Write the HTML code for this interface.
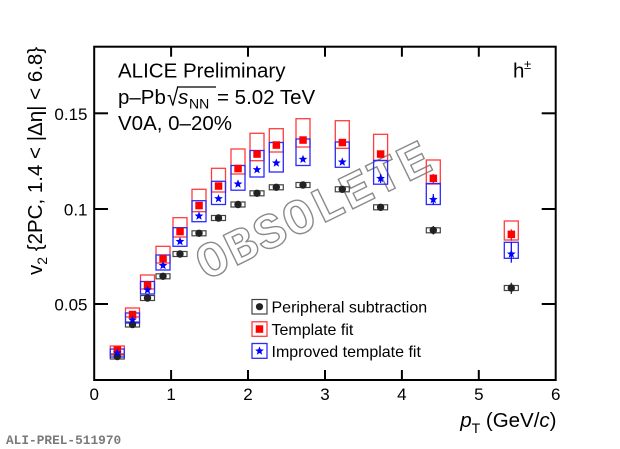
<!DOCTYPE html>
<html><head><meta charset="utf-8"><style>
html,body{margin:0;padding:0;background:#fff;}
svg{display:block;}
text{font-family:"Liberation Sans",Arial,sans-serif;fill:#000;}
</style></head><body>
<svg width="620" height="449" viewBox="0 0 620 449" xmlns="http://www.w3.org/2000/svg">
<defs>
<path id="star" d="M0,-4.6 L1.15,-1.58 L4.37,-1.42 L1.86,0.6 L2.7,3.72 L0,1.95 L-2.7,3.72 L-1.86,0.6 L-4.37,-1.42 L-1.15,-1.58 Z" fill="#0000ff"/>
</defs>
<rect width="620" height="449" fill="#fff"/>

<!-- watermark -->
<g transform="translate(314,210) rotate(-26)">
<text x="0" y="16" text-anchor="middle" style="font-family:'Liberation Mono','DejaVu Sans Mono',monospace;font-weight:bold;font-size:50px;letter-spacing:2px;fill:#fff;stroke:#8a8a8a;stroke-width:1.4px;">OBSOLETE</text>
</g>

<!-- frame -->
<rect x="94.2" y="46.7" width="461.5" height="333.3" fill="none" stroke="#000" stroke-width="2"/>
<g stroke="#000" stroke-width="2">
<line x1="94" y1="113.3" x2="108" y2="113.3"/>
<line x1="94" y1="209" x2="108" y2="209"/>
<line x1="94" y1="304" x2="108" y2="304"/>
<line x1="541.7" y1="113.3" x2="555.7" y2="113.3"/>
<line x1="541.7" y1="209" x2="555.7" y2="209"/>
<line x1="541.7" y1="304" x2="555.7" y2="304"/>
<line x1="171.1" y1="380" x2="171.1" y2="370"/>
<line x1="248" y1="380" x2="248" y2="370"/>
<line x1="325" y1="380" x2="325" y2="370"/>
<line x1="401.9" y1="380" x2="401.9" y2="370"/>
<line x1="478.8" y1="380" x2="478.8" y2="370"/>
<line x1="171.1" y1="46.7" x2="171.1" y2="56.7"/>
<line x1="248" y1="46.7" x2="248" y2="56.7"/>
<line x1="325" y1="46.7" x2="325" y2="56.7"/>
<line x1="401.9" y1="46.7" x2="401.9" y2="56.7"/>
<line x1="478.8" y1="46.7" x2="478.8" y2="56.7"/>
</g>

<!-- tick labels -->
<g style="font-size:17px">
<text x="87.5" y="120" text-anchor="end">0.15</text>
<text x="87.5" y="215.5" text-anchor="end">0.1</text>
<text x="87.5" y="310.5" text-anchor="end">0.05</text>
<text x="94.2" y="400" text-anchor="middle">0</text>
<text x="171.1" y="400" text-anchor="middle">1</text>
<text x="248" y="400" text-anchor="middle">2</text>
<text x="325" y="400" text-anchor="middle">3</text>
<text x="401.9" y="400" text-anchor="middle">4</text>
<text x="478.8" y="400" text-anchor="middle">5</text>
<text x="555.7" y="400" text-anchor="middle">6</text>
</g>

<!-- axis titles -->
<text x="556.5" y="427" text-anchor="end" style="font-size:20.5px"><tspan font-style="italic">p</tspan><tspan font-size="14" dy="6">T</tspan><tspan dy="-6"> (GeV/</tspan><tspan font-style="italic">c</tspan>)</text>
<text transform="translate(42,275) rotate(-90)" x="0" y="0" style="font-size:20.5px">v<tspan font-size="14" dy="5">2</tspan><tspan dy="-5"> {2PC, 1.4 &lt; |Δη| &lt; 6.8}</tspan></text>

<!-- header text -->
<g style="font-size:20.5px">
<text x="118" y="77.7">ALICE Preliminary</text>
<text x="118" y="104">p–Pb</text>
<text transform="translate(167,105.5) scale(1,1.15)" x="0" y="0" style="font-size:21px">√</text>
<line x1="177" y1="87" x2="216" y2="87" stroke="#000" stroke-width="1.3"/>
<text x="178" y="104" font-style="italic">s</text>
<text x="189" y="108.5" style="font-size:14px">NN</text>
<text x="217" y="104">= 5.02 TeV</text>
<text x="118" y="130">V0A, 0–20%</text>
<text x="513" y="77.7">h</text>
<text x="524" y="69" style="font-size:13px">±</text>
</g>

<text x="6" y="444" style="font-family:'Liberation Mono','DejaVu Sans Mono',monospace;font-weight:bold;font-size:12.8px;fill:#7a7a7a;">ALI-PREL-511970</text>

<!-- black systematic boxes -->
<g fill="none" stroke="#444" stroke-width="1.2">
<rect x="110.3" y="354" width="14" height="5"/>
<rect x="125.5" y="322" width="14" height="5"/>
<rect x="140.5" y="295.5" width="14" height="5"/>
<rect x="156" y="273.8" width="14" height="5"/>
<rect x="173" y="251.5" width="14" height="5"/>
<rect x="192" y="230.8" width="14" height="5"/>
<rect x="211.5" y="215.5" width="14" height="5"/>
<rect x="231" y="202" width="14" height="5"/>
<rect x="250" y="190.8" width="14" height="5"/>
<rect x="269.3" y="184.8" width="14" height="5"/>
<rect x="296" y="182.5" width="14" height="5"/>
<rect x="335.3" y="186.8" width="14" height="5"/>
<rect x="373.6" y="204.8" width="14" height="5"/>
<rect x="426.3" y="227.8" width="14" height="5"/>
<rect x="504.3" y="285.5" width="14" height="5"/>
</g>

<!-- red systematic boxes -->
<g fill="none" stroke="#ff3c3c" stroke-width="1.3">
<rect x="110.3" y="346" width="14" height="9"/>
<rect x="125.5" y="308" width="14" height="9"/>
<rect x="140.5" y="275" width="14" height="14"/>
<rect x="156" y="246.3" width="14" height="16.7"/>
<rect x="173" y="217.7" width="14" height="19.3"/>
<rect x="192" y="189.3" width="14" height="22.4"/>
<rect x="211.5" y="168.3" width="14" height="23.7"/>
<rect x="231" y="149" width="14" height="25"/>
<rect x="250" y="133.3" width="14" height="27.4"/>
<rect x="269.3" y="128.7" width="14" height="23.3"/>
<rect x="296" y="118.7" width="14" height="28.3"/>
<rect x="335.3" y="120.7" width="14" height="27.6"/>
<rect x="373.6" y="134.3" width="14" height="26.2"/>
<rect x="426.3" y="160" width="14" height="24"/>
<rect x="504.3" y="221" width="14" height="19"/>
</g>

<!-- blue systematic boxes -->
<g fill="none" stroke="#2a2aff" stroke-width="1.3">
<rect x="110.3" y="349" width="14" height="8"/>
<rect x="125.5" y="313" width="14" height="10"/>
<rect x="140.5" y="281.5" width="14" height="12.5"/>
<rect x="156" y="255" width="14" height="15"/>
<rect x="173" y="227.7" width="14" height="18.6"/>
<rect x="192" y="200.7" width="14" height="21"/>
<rect x="211.5" y="181.3" width="14" height="23.2"/>
<rect x="231" y="165.5" width="14" height="24.7"/>
<rect x="250" y="150.5" width="14" height="26.5"/>
<rect x="269.3" y="142.5" width="14" height="29.5"/>
<rect x="296" y="139" width="14" height="26.5"/>
<rect x="335.3" y="142" width="14" height="25.3"/>
<rect x="373.6" y="160.5" width="14" height="23.7"/>
<rect x="426.3" y="183.5" width="14" height="21"/>
<rect x="504.3" y="242.3" width="14" height="16"/>
</g>

<!-- stat error bars -->
<g stroke-width="1.2">
<line x1="511.3" y1="229.3" x2="511.3" y2="240.7" stroke="#f00"/>
<line x1="511.3" y1="242" x2="511.3" y2="262.7" stroke="#00f"/>
<line x1="511.3" y1="282.7" x2="511.3" y2="294" stroke="#222"/>
<line x1="433.3" y1="174" x2="433.3" y2="183" stroke="#f00"/>
<line x1="433.3" y1="194" x2="433.3" y2="205" stroke="#00f"/>
<line x1="433.3" y1="226" x2="433.3" y2="234.5" stroke="#222"/>
<line x1="380.6" y1="174" x2="380.6" y2="183" stroke="#00f"/>
</g>

<!-- black circles -->
<g fill="#222">
<circle cx="117.3" cy="356.5" r="3.7"/>
<circle cx="132.5" cy="324.5" r="3.7"/>
<circle cx="147.5" cy="298" r="3.7"/>
<circle cx="163" cy="276.3" r="3.7"/>
<circle cx="180" cy="254" r="3.7"/>
<circle cx="199" cy="233.3" r="3.7"/>
<circle cx="218.5" cy="218" r="3.7"/>
<circle cx="238" cy="204.5" r="3.7"/>
<circle cx="257" cy="193.3" r="3.7"/>
<circle cx="276.3" cy="187.3" r="3.7"/>
<circle cx="303" cy="185" r="3.7"/>
<circle cx="342.3" cy="189.3" r="3.7"/>
<circle cx="380.6" cy="207.3" r="3.7"/>
<circle cx="433.3" cy="230.3" r="3.7"/>
<circle cx="511.3" cy="288" r="3.7"/>
</g>

<!-- red squares -->
<g fill="#f00">
<rect x="113.6" y="346.3" width="7.5" height="7.5"/>
<rect x="128.8" y="310.8" width="7.5" height="7.5"/>
<rect x="143.8" y="281.3" width="7.5" height="7.5"/>
<rect x="159.3" y="254.8" width="7.5" height="7.5"/>
<rect x="176.3" y="227.8" width="7.5" height="7.5"/>
<rect x="195.3" y="201.8" width="7.5" height="7.5"/>
<rect x="214.8" y="182.3" width="7.5" height="7.5"/>
<rect x="234.3" y="164.8" width="7.5" height="7.5"/>
<rect x="253.3" y="150.3" width="7.5" height="7.5"/>
<rect x="272.6" y="141.3" width="7.5" height="7.5"/>
<rect x="299.3" y="136.3" width="7.5" height="7.5"/>
<rect x="338.6" y="138.8" width="7.5" height="7.5"/>
<rect x="376.9" y="150.3" width="7.5" height="7.5"/>
<rect x="429.6" y="174.6" width="7.5" height="7.5"/>
<rect x="507.6" y="230.6" width="7.5" height="7.5"/>
</g>

<!-- blue stars -->
<use href="#star" x="117.3" y="353"/>
<use href="#star" x="132.5" y="320"/>
<use href="#star" x="147.5" y="290"/>
<use href="#star" x="163" y="265.5"/>
<use href="#star" x="180" y="241.5"/>
<use href="#star" x="199" y="216"/>
<use href="#star" x="218.5" y="198.7"/>
<use href="#star" x="238" y="184"/>
<use href="#star" x="257" y="169.7"/>
<use href="#star" x="276.3" y="163"/>
<use href="#star" x="303" y="159.3"/>
<use href="#star" x="342.3" y="162"/>
<use href="#star" x="380.6" y="178.5"/>
<use href="#star" x="433.3" y="199.5"/>
<use href="#star" x="511.3" y="254"/>

<!-- legend -->
<rect x="252" y="299.5" width="15" height="14.5" fill="none" stroke="#444" stroke-width="1.2"/>
<circle cx="259.5" cy="306.7" r="3.6" fill="#222"/>
<rect x="252" y="321.8" width="15" height="14.5" fill="none" stroke="#ff3c3c" stroke-width="1.3"/>
<rect x="255.7" y="325.3" width="7.5" height="7.5" fill="#f00"/>
<rect x="252" y="343.5" width="15" height="14.8" fill="none" stroke="#2a2aff" stroke-width="1.3"/>
<use href="#star" x="259.5" y="351"/>
<g style="font-size:16px">
<text x="271.5" y="312.5">Peripheral subtraction</text>
<text x="271.5" y="335">Template fit</text>
<text x="271.5" y="357">Improved template fit</text>
</g>
</svg>
</body></html>
